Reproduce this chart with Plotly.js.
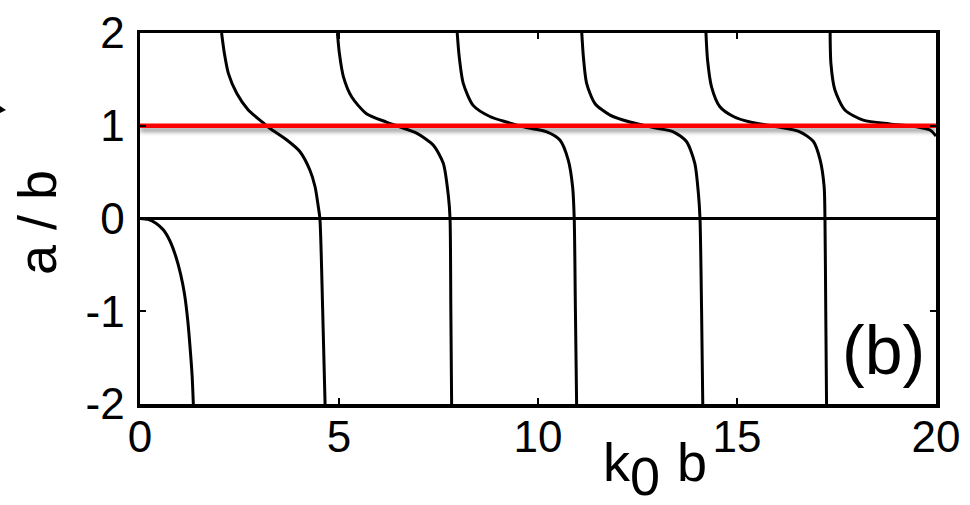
<!DOCTYPE html>
<html>
<head>
<meta charset="utf-8">
<script src="https://cdn.plot.ly/plotly-3.0.1.min.js"></script>
<style>
  html, body { margin: 0; padding: 0; background: #fff; }
  #plot { width: 970px; height: 505px; }
</style>
</head>
<body>
<div id="plot"></div>
<script>
// Solution branches of a/b versus k0 b
const branch0X = [0, 0.20, 0.40, 0.59, 0.75, 0.90, 1.02, 1.12, 1.20, 1.26, 1.31, 1.34];
const branch0Y = [0, -0.01, -0.05, -0.124, -0.24, -0.41, -0.60, -0.82, -1.10, -1.40, -1.70, -2.0];

const branch1X = [2.05, 2.12, 2.22, 2.43, 2.72, 3.10, 3.27, 3.69, 4.02, 4.27, 4.40, 4.48, 4.52, 4.59, 4.65];
const branch1Y = [2.0, 1.78, 1.565, 1.35, 1.17, 1.03, 0.97, 0.846, 0.72, 0.52, 0.34, 0.127, 0, -0.99, -2.0];

const branch2X = [4.96, 5.01, 5.11, 5.32, 5.69, 6.19, 6.45, 6.95, 7.37, 7.62, 7.75, 7.79, 7.81, 7.83];
const branch2Y = [2.0, 1.78, 1.53, 1.31, 1.13, 1.04, 1.0, 0.92, 0.79, 0.595, 0.235, 0, -0.99, -2.0];

const branch3X = [7.97, 8.02, 8.12, 8.37, 8.79, 9.21, 9.71, 10.22, 10.55, 10.76, 10.87, 10.91, 10.94, 10.97];
const branch3Y = [2.0, 1.745, 1.46, 1.22, 1.10, 1.04, 0.98, 0.935, 0.846, 0.63, 0.34, 0, -0.99, -2.0];

const branch4X = [11.10, 11.14, 11.22, 11.43, 11.81, 12.31, 12.90, 13.40, 13.73, 13.94, 14.03, 14.07, 14.11, 14.14];
const branch4Y = [2.0, 1.745, 1.46, 1.24, 1.115, 1.04, 0.98, 0.935, 0.83, 0.595, 0.27, 0, -0.99, -2.0];

const branch5X = [14.22, 14.26, 14.36, 14.57, 14.91, 15.33, 16.0, 16.58, 16.92, 17.09, 17.19, 17.21, 17.23, 17.25];
const branch5Y = [2.0, 1.71, 1.42, 1.205, 1.10, 1.04, 0.99, 0.935, 0.83, 0.63, 0.34, 0, -0.99, -2.0];

const branch6X = [17.34, 17.36, 17.46, 17.71, 18.17, 18.84, 19.51, 19.85, 20.0];
const branch6Y = [2.0, 1.67, 1.385, 1.17, 1.06, 1.02, 0.99, 0.954, 0.89];

// Reference level a/b = 1
const levelX = [0, 20];
const levelY = [1, 1];

const xTicks = [0, 5, 10, 15, 20];
const yTicks = [-2, -1, 0, 1, 2];

const FONT = '"Liberation Sans", Arial, Helvetica, sans-serif';

const branches = [
  [branch0X, branch0Y], [branch1X, branch1Y], [branch2X, branch2Y],
  [branch3X, branch3Y], [branch4X, branch4Y], [branch5X, branch5Y],
  [branch6X, branch6Y]
];

const traces = branches.map(([x, y]) => ({
  x, y, type: 'scatter', mode: 'lines',
  line: { color: '#000', width: 3, shape: 'spline', smoothing: 0.7 },
  hoverinfo: 'skip', showlegend: false
}));

traces.push({
  x: levelX, y: levelY, type: 'scatter', mode: 'lines',
  line: { color: '#ff0000', width: 4.5 },
  hoverinfo: 'skip', showlegend: false
});

// plot-area geometry in pixels
const W = 970, H = 505;
const L = 140, R = 936, T = 33, B = 404;
const px = v => (v - L) / (R - L);   // pixel x -> paper x
const py = v => (B - v) / (B - T);   // pixel y -> paper y

const axisCommon = {
  showline: true, mirror: 'ticks', linecolor: '#000', linewidth: 3.5,
  ticks: 'inside', ticklen: 6, tickwidth: 2, tickcolor: '#000',
  showgrid: false, fixedrange: true,
  tickfont: { family: FONT, size: 44, color: '#000' }
};

const layout = {
  width: W, height: H,
  margin: { l: L, r: W - R, t: T, b: H - B, pad: 0 },
  paper_bgcolor: '#fff', plot_bgcolor: '#fff',
  xaxis: Object.assign({}, axisCommon, {
    range: [0, 20], tickvals: xTicks, ticktext: xTicks.map(String),
    zeroline: false, ticklabelstandoff: -8
  }),
  yaxis: Object.assign({}, axisCommon, {
    range: [-2, 2], tickvals: yTicks, ticktext: yTicks.map(String),
    zeroline: true, zerolinecolor: '#000', zerolinewidth: 2.2,
    ticklabelstandoff: 3
  }),
  annotations: [
    { text: 'a / b', xref: 'paper', yref: 'paper', x: px(37), y: py(223),
      xanchor: 'center', yanchor: 'middle', textangle: -90, showarrow: false,
      font: { family: FONT, size: 54, color: '#000' } },
    { text: 'k', xref: 'paper', yref: 'paper', x: px(601), y: py(462),
      xanchor: 'left', yanchor: 'middle', showarrow: false,
      font: { family: FONT, size: 54, color: '#000' } },
    { text: '0', xref: 'paper', yref: 'paper', x: px(628), y: py(476),
      xanchor: 'left', yanchor: 'middle', showarrow: false,
      font: { family: FONT, size: 54, color: '#000' } },
    { text: 'b', xref: 'paper', yref: 'paper', x: px(675), y: py(462),
      xanchor: 'left', yanchor: 'middle', showarrow: false,
      font: { family: FONT, size: 54, color: '#000' } },
    { text: '(b)', xref: 'paper', yref: 'paper', x: px(883), y: py(350),
      xanchor: 'center', yanchor: 'middle', showarrow: false,
      font: { family: FONT, size: 68, color: '#000' } }
  ],
  shapes: [
    // small arrow tip at the left margin
    { type: 'path', xref: 'paper', yref: 'paper',
      path: `M ${px(0)} ${py(106)} L ${px(6)} ${py(110)} L ${px(0)} ${py(113)} Z`,
      fillcolor: '#000', line: { width: 0 } }
  ]
};

Plotly.newPlot('plot', traces, layout, { staticPlot: true, displayModeBar: false }).then(gd => {
  // soft shadow under the red reference line
  const svg = gd.querySelector('svg.main-svg');
  const ns = 'http://www.w3.org/2000/svg';
  let defs = svg.querySelector('defs');
  if (!defs) { defs = document.createElementNS(ns, 'defs'); svg.insertBefore(defs, svg.firstChild); }
  const filter = document.createElementNS(ns, 'filter');
  filter.setAttribute('id', 'levelShadow');
  filter.setAttribute('filterUnits', 'userSpaceOnUse');
  filter.setAttribute('x', '-50'); filter.setAttribute('y', '-600');
  filter.setAttribute('width', '1200'); filter.setAttribute('height', '1200');
  const ds = document.createElementNS(ns, 'feDropShadow');
  ds.setAttribute('dx', '0'); ds.setAttribute('dy', '4');
  ds.setAttribute('stdDeviation', '2.2');
  ds.setAttribute('flood-color', '#000'); ds.setAttribute('flood-opacity', '0.4');
  filter.appendChild(ds);
  defs.appendChild(filter);
  const tr = gd.querySelectorAll('.scatterlayer .trace');
  const line = tr[tr.length - 1].querySelector('path.js-line');
  if (line) line.setAttribute('filter', 'url(#levelShadow)');
});
</script>
</body>
</html>
